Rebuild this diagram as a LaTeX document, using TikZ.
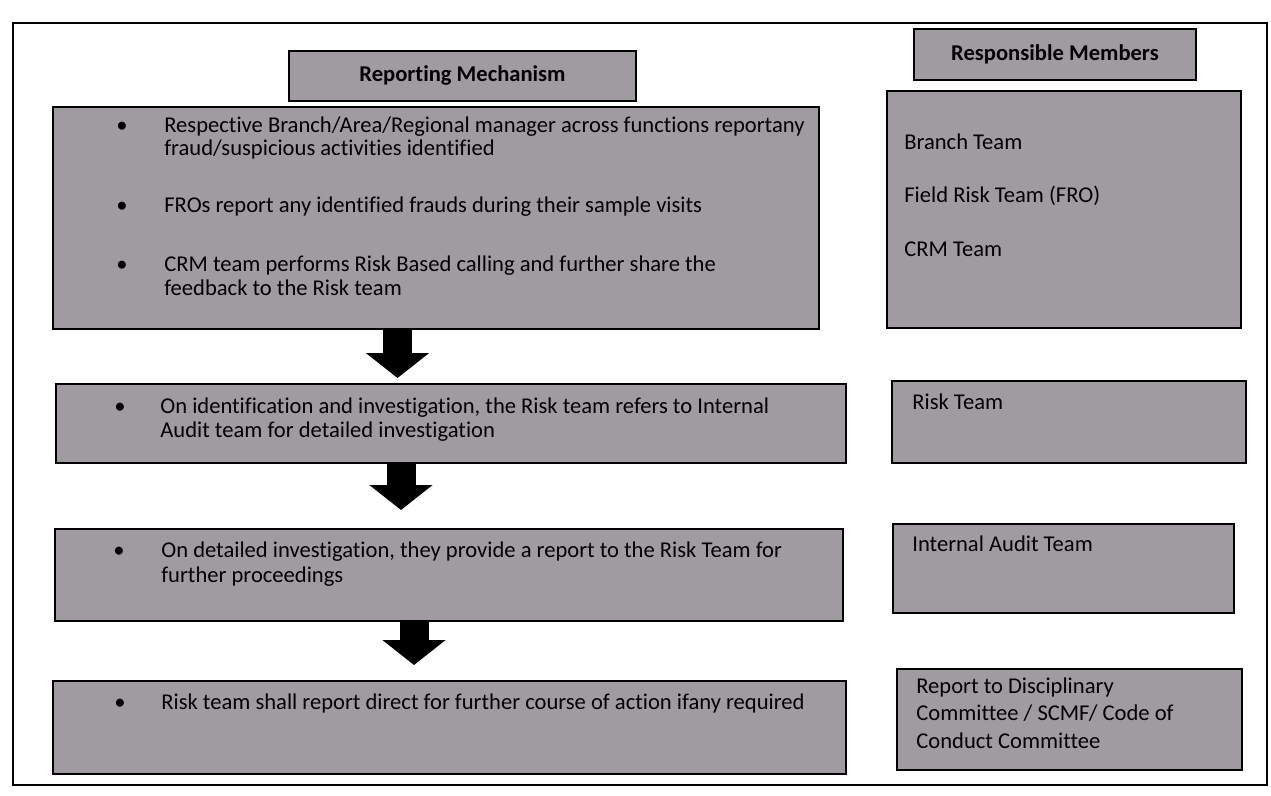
\documentclass[tikz,border=0pt]{standalone}
\usepackage{fontspec}
\setmainfont{Carlito}[Ligatures=NoCommon]
\usetikzlibrary{arrows.meta}
\definecolor{boxgray}{RGB}{160,155,161}
\begin{document}
\begin{tikzpicture}[x=0.2mm,y=-0.2mm,
  box/.style={draw=black, line width=1.1pt, fill=boxgray, inner sep=0pt, anchor=north west},
  txt/.style={anchor=mid west, inner sep=0pt, font=\fontsize{12.85}{15}\selectfont},
  hd/.style={anchor=center, inner sep=0pt, font=\fontsize{12.85}{15}\selectfont\bfseries},
  bul/.style={anchor=mid, inner sep=0pt, font=\fontsize{12.85}{15}\selectfont},
  bigarrow/.style={draw=black, line width=5.8mm, -{Triangle[width=12.4mm,length=5mm]}}
]
\useasboundingbox (0,0) rectangle (1271,796);
\draw[line width=1.4pt] (13,23) rectangle (1267,785);

% headings
\node[box, minimum width=69.4mm, minimum height=10mm] (rm) at (288,50) {};
\node[hd] (rmt) at (rm.center) {Reporting Mechanism};
\node[box, minimum width=56.4mm, minimum height=10.2mm] (resm) at (913,28) {};
\node[hd] (resmt) at (resm.center) {Responsible Members};

% left boxes
\node[box, minimum width=153.2mm, minimum height=44.4mm] (b1) at (52,106) {};
\node[box, minimum width=158mm, minimum height=15.8mm] (b2) at (55,383) {};
\node[box, minimum width=157.6mm, minimum height=18.4mm] (b3) at (54,528) {};
\node[box, minimum width=158.6mm, minimum height=18.6mm] (b4) at (52,680) {};

% right boxes
\node[box, minimum width=70.8mm, minimum height=47.4mm] (r1) at (886,90) {};
\node[box, minimum width=70.8mm, minimum height=16.4mm] (r2) at (891,380) {};
\node[box, minimum width=68.2mm, minimum height=17.8mm] (r3) at (892,523) {};
\node[box, minimum width=69mm, minimum height=20.2mm] (r4) at (896,668) {};

% box 1 text
\node[bul] (u11) at (122,128.5) {•};
\node[txt] (l11) at (164,128.5) {Respective Branch/Area/Regional manager across functions reportany};
\node[txt] (l12) at (164,151) {fraud/suspicious activities identified};
\node[bul] (u12) at (122,208.5) {•};
\node[txt] (l13) at (164,208.5) {FROs report any identified frauds during their sample visits};
\node[bul] (u13) at (122,267.5) {•};
\node[txt] (l14) at (164,267.5) {CRM team performs Risk Based calling and further share the};
\node[txt] (l15) at (164,291) {feedback to the Risk team};

% box 2 text
\node[bul] (u21) at (120,409) {•};
\node[txt] (l21) at (160,409) {On identification and investigation, the Risk team refers to Internal};
\node[txt] (l22) at (160,433) {Audit team for detailed investigation};

% box 3 text
\node[bul] (u31) at (119,553) {•};
\node[txt] (l31) at (161,553) {On detailed investigation, they provide a report to the Risk Team for};
\node[txt] (l32) at (161,578) {further proceedings};

% box 4 text
\node[bul] (u41) at (120,705) {•};
\node[txt] (l41) at (161,705) {Risk team shall report direct for further course of action ifany required};

% right texts
\node[txt] (m11) at (904,145) {Branch Team};
\node[txt] (m12) at (904,198) {Field Risk Team (FRO)};
\node[txt] (m13) at (904,252) {CRM Team};
\node[txt] (m21) at (912,405) {Risk Team};
\node[txt] (m31) at (912,547) {Internal Audit Team};
\node[txt] (m41) at (916,689) {Report to Disciplinary};
\node[txt] (m42) at (916,716) {Committee / SCMF/ Code of};
\node[txt] (m43) at (916,744) {Conduct Committee};

% arrows
\coordinate (t1) at (397.5,378);
\coordinate (t2) at (401,510);
\coordinate (t3) at (414,665);
\draw[bigarrow] (b1.south -| t1) -- (t1);
\draw[bigarrow] (b2.south -| t2) -- (t2);
\draw[bigarrow] (b3.south -| t3) -- (t3);
\end{tikzpicture}
\end{document}
